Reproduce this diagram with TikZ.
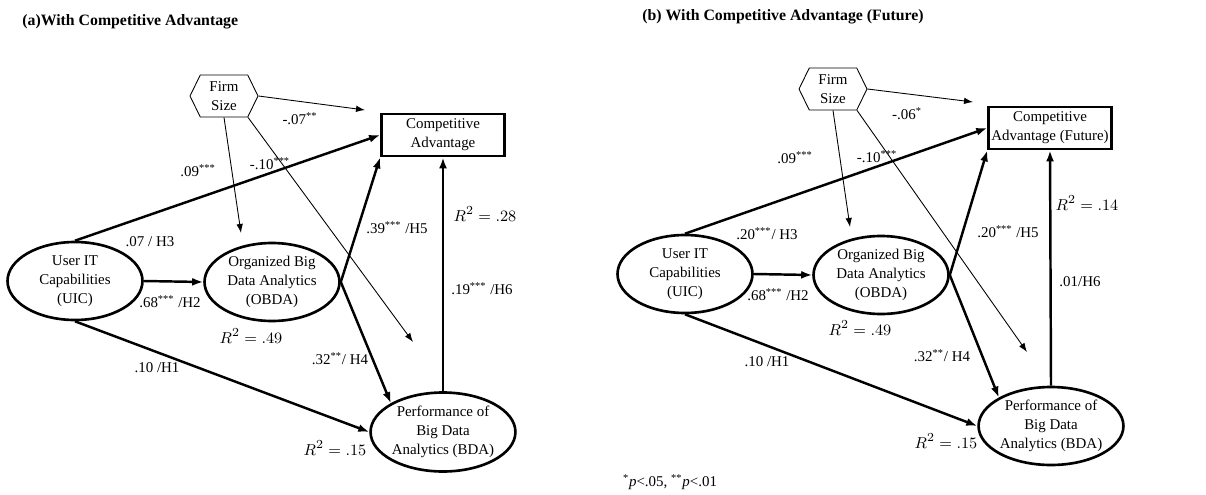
\documentclass[tikz,border=0pt]{standalone}
\usepackage{fontspec}
\setmainfont{Liberation Serif}
\usepackage{tikz}
\usetikzlibrary{shapes.geometric, shapes.symbols}
\usetikzlibrary{arrows, arrows.meta}
\definecolor{BLACK}{HTML}{000000}

\begin{document}
\begin{tikzpicture}[x=0.02cm, y=-0.02cm, font=\fontsize{8.5}{10.8}\selectfont,
    latentvar/.style={draw=BLACK, ellipse, line width=1.5pt, minimum width=2.7cm, minimum height=1.56cm, inner sep=0pt, align=center},
    outcomebox/.style={draw=BLACK, rectangle, line width=1.6pt, minimum width=2.4cm, minimum height=0.84cm, inner sep=1.5pt, align=center},
    covar/.style={draw=BLACK, signal, signal to=east and west, signal pointer angle=128, minimum width=1.36cm, minimum height=0.84cm, inner sep=1pt, align=center, line width=0.5pt},
    effect/.style={BLACK, line width=1.4pt, -{Latex[length=2.2mm,width=1.6mm]}},
    covarline/.style={BLACK, line width=0.5pt, -{Latex[length=1.8mm,width=1.3mm]}},
    coef/.style={inner sep=0pt},
    rsq/.style={inner sep=0pt, font=\fontsize{9.5}{11}\selectfont},
    paneltitle/.style={inner sep=0pt, anchor=west, font=\fontsize{9}{11}\selectfont\bfseries}]
    \useasboundingbox (0,0) rectangle (1206,494);

    % (a) competitive advantage
    \node[paneltitle] (titleA) at (22,22) {(a)With Competitive Advantage};
    \node[covar] (firmA) at (224,96) {Firm\\Size};
    \node[outcomebox, minimum width=2.46cm] (caA) at (443,135) {Competitive\\Advantage};
    \node[latentvar] (uicA) at (75,281) {User IT\\Capabilities\\(UIC)};
    \node[latentvar] (obdaA) at (272,282) {Organized Big\\Data Analytics\\(OBDA)};
    \node[latentvar, minimum width=2.86cm, minimum height=1.58cm] (bdaA) at (443,432) {Performance of\\Big Data\\Analytics (BDA)};
    \coordinate (fsA1) at (365,110);
    \coordinate (fsA2) at (241,233);
    \coordinate (fsA3) at (413,342);

    \draw[effect] (uicA.north) -- (caA.west);
    \draw[effect] (uicA.east) -- (obdaA.west);
    \draw[effect] (uicA.south) -- (bdaA.west);
    \draw[effect] (obdaA.east) -- (caA.south west);
    \draw[effect] (obdaA.east) -- (bdaA.north west);
    \draw[effect] (bdaA.north) -- (caA.south);
    \draw[covarline] (firmA.east) -- (fsA1);
    \draw[covarline] (firmA.south) -- (fsA2);
    \draw[covarline] (firmA.south east) -- (fsA3);

    \node[coef] (cA1) at (300,119) {-.07\textsuperscript{**}};
    \node[coef] (cA2) at (198,171) {.09\textsuperscript{***}};
    \node[coef] (cA3) at (270,164) {-.10\textsuperscript{***}};
    \node[coef] (cA4) at (150,242) {.07 / H3};
    \node[coef] (cA5) at (170,302) {.68\textsuperscript{***} /H2};
    \node[coef] (cA6) at (157,368) {.10 /H1};
    \node[coef] (cA7) at (340,359) {.32\textsuperscript{**}/ H4};
    \node[coef] (cA8) at (397,228) {.39\textsuperscript{***} /H5};
    \node[coef] (cA9) at (482,289) {.19\textsuperscript{***} /H6};
    \node[rsq] (rA1) at (251,336) {$R^2 = .49$};
    \node[rsq] (rA2) at (335,448) {$R^2 = .15$};
    \node[rsq] (rA3) at (485,214) {$R^2 = .28$};

    % (b) competitive advantage (future)
    \node[paneltitle] (titleB) at (642,17) {(b) With Competitive Advantage (Future)};
    \node[covar] (firmB) at (833,89) {Firm\\Size};
    \node[outcomebox] (caB) at (1050,128) {Competitive\\Advantage (Future)};
    \node[latentvar] (uicB) at (685,274) {User IT\\Capabilities\\(UIC)};
    \node[latentvar] (obdaB) at (881,275) {Organized Big\\Data Analytics\\(OBDA)};
    \node[latentvar, minimum width=2.86cm, minimum height=1.56cm] (bdaB) at (1051,426) {Performance of\\Big Data\\Analytics (BDA)};
    \coordinate (fsB1) at (973,102);
    \coordinate (fsB2) at (850,227);
    \coordinate (fsB3) at (1027,352);

    \draw[effect] (uicB.north) -- (caB.west);
    \draw[effect] (uicB.east) -- (obdaB.west);
    \draw[effect] (uicB.south) -- (bdaB.west);
    \draw[effect] (obdaB.east) -- (caB.south west);
    \draw[effect] (obdaB.east) -- (bdaB.north west);
    \draw[effect] (bdaB.north) -- (caB.south);
    \draw[covarline] (firmB.east) -- (fsB1);
    \draw[covarline] (firmB.south) -- (fsB2);
    \draw[covarline] (firmB.south east) -- (fsB3);

    \node[coef] (cB1) at (907,114) {-.06\textsuperscript{*}};
    \node[coef] (cB2) at (795,158) {.09\textsuperscript{***}};
    \node[coef] (cB3) at (877,157) {-.10\textsuperscript{***}};
    \node[coef] (cB4) at (767,234) {.20\textsuperscript{***}/ H3};
    \node[coef] (cB5) at (778,295) {.68\textsuperscript{***} /H2};
    \node[coef] (cB6) at (767,362) {.10 /H1};
    \node[coef] (cB7) at (942,356) {.32\textsuperscript{**}/ H4};
    \node[coef] (cB8) at (1008,232) {.20\textsuperscript{***} /H5};
    \node[coef] (cB9) at (1080,282) {.01/H6};
    \node[rsq] (rB1) at (860,328) {$R^2 = .49$};
    \node[rsq] (rB2) at (946,441) {$R^2 = .15$};
    \node[rsq] (rB3) at (1087,203) {$R^2 = .14$};

    \node[coef] (note) at (670,482) {\textsuperscript{*}\textit{p}<.05, \textsuperscript{**}\textit{p}<.01};
\end{tikzpicture}
\end{document}
